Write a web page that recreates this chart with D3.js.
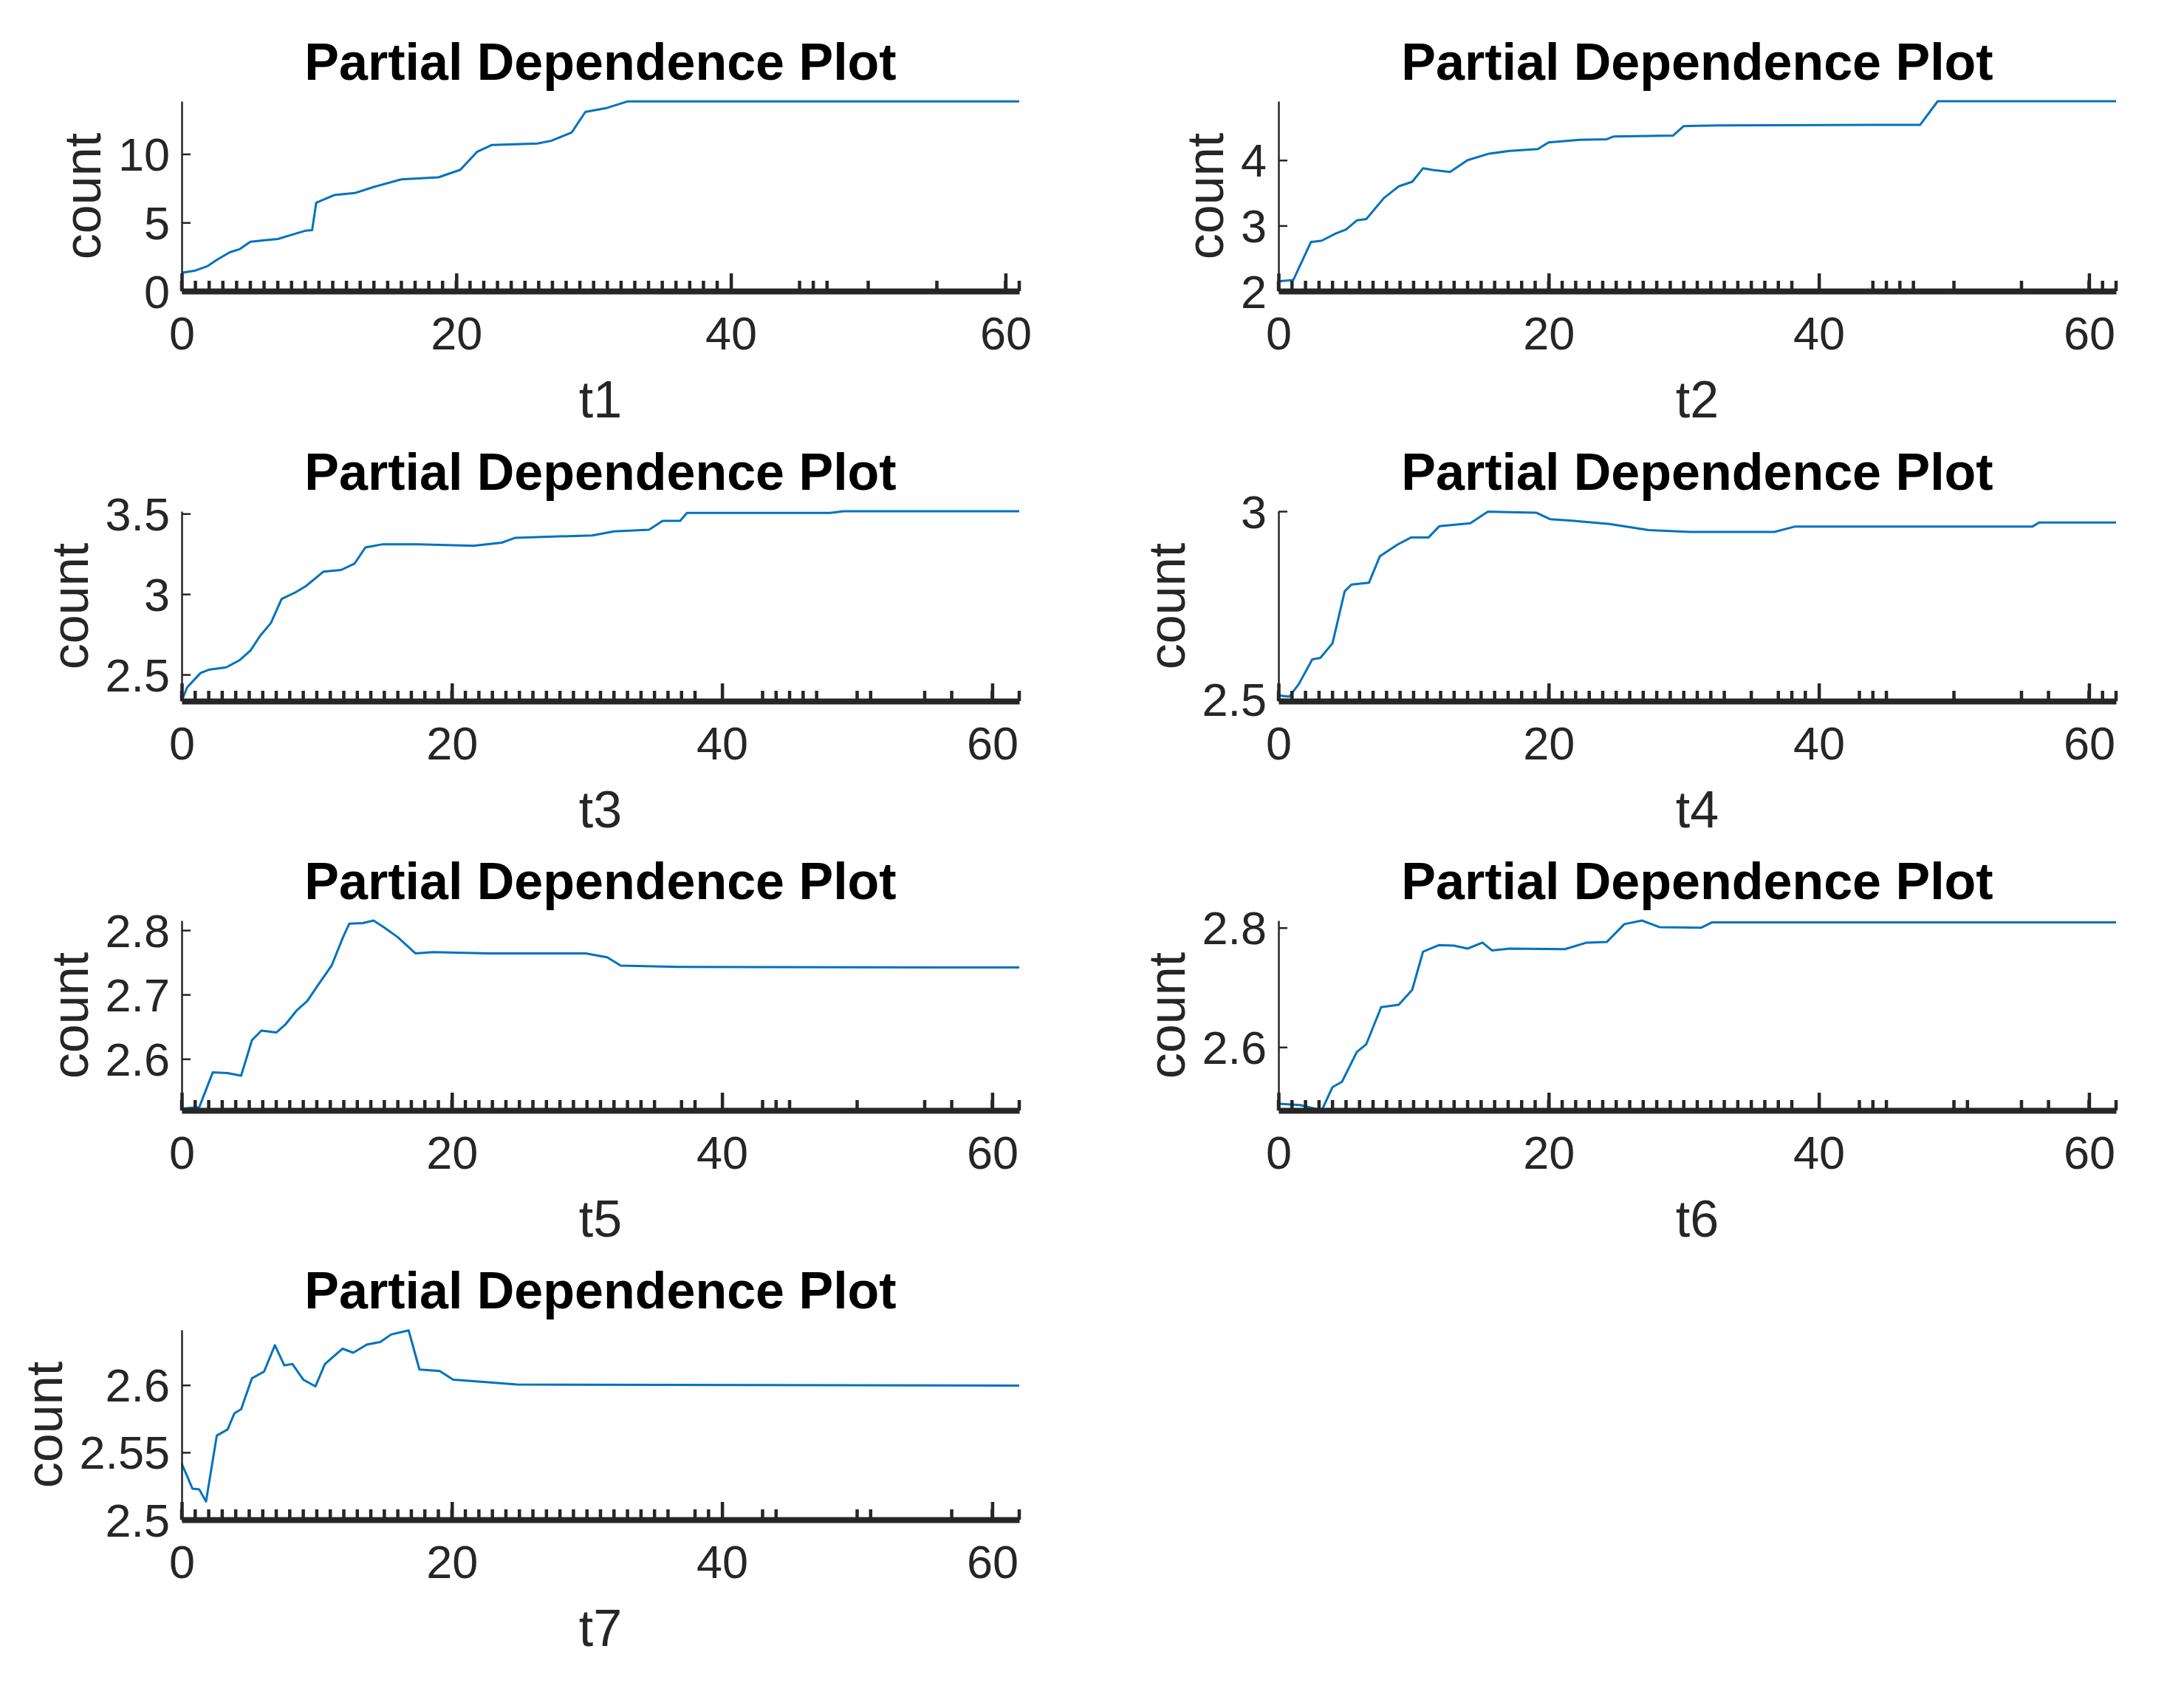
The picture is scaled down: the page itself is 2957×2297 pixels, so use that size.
<!DOCTYPE html>
<html>
<head>
<meta charset="utf-8">
<script src="https://cdn.jsdelivr.net/npm/d3@7"></script>
<style>
  html, body { margin: 0; padding: 0; background: #fff; }
  svg { display: block; }
  text { font-family: "Liberation Sans", Arial, Helvetica, sans-serif; }
</style>
</head>
<body>
<svg id="chart" width="2957" height="2297"></svg>
<script>
// ---------------- data ----------------
const panelNames = ["t1", "t2", "t3", "t4", "t5", "t6", "t7"];
const titleText = "Partial Dependence Plot";
const yLabelText = "count";
const xTicks = [0, 20, 40, 60];

const xMax = [61, 62, 62, 62, 62, 62, 62];
const yDomains = [
  [0, 13.85],
  [2.0, 4.9],
  [2.335, 3.515],
  [2.495, 3.0],
  [2.52, 2.815],
  [2.494, 2.812],
  [2.5, 2.641]
];
const yTicks = [
  [0, 5, 10],
  [2, 3, 4],
  [2.5, 3, 3.5],
  [2.5, 3],
  [2.6, 2.7, 2.8],
  [2.6, 2.8],
  [2.5, 2.55, 2.6]
];

const x1 = [0, 1, 1.9, 2.6, 3.5, 4.2, 5, 6, 7, 8, 9, 9.5, 9.8, 11.1, 12.6, 14, 16, 18.7, 20.3, 21.5, 22.6, 25.9, 26.9, 28.4, 29.4, 31, 32.5, 61];
const y1 = [1.33, 1.5, 1.83, 2.3, 2.83, 3.05, 3.6, 3.7, 3.8, 4.1, 4.4, 4.45, 6.45, 7.0, 7.15, 7.6, 8.15, 8.3, 8.85, 10.15, 10.66, 10.76, 10.96, 11.57, 13.07, 13.37, 13.84, 13.84];

const x2 = [0, 1.1, 2.4, 3.2, 4.2, 5, 5.8, 6.5, 7.8, 8.9, 9.9, 10.7, 11.4, 12.7, 14, 15.6, 17.1, 19.2, 20, 22.3, 24.3, 24.8, 27.4, 29.2, 30, 32.6, 47.5, 48.8, 62];
const y2 = [2.15, 2.17, 2.75, 2.77, 2.875, 2.94, 3.08, 3.1, 3.42, 3.6, 3.67, 3.875, 3.85, 3.82, 4.0, 4.1, 4.14, 4.17, 4.27, 4.31, 4.32, 4.36, 4.37, 4.375, 4.52, 4.53, 4.54, 4.9, 4.9];

const x3 = [0, 0.4, 1.4, 2, 3.3, 4.3, 5.1, 5.8, 6.6, 7.4, 8.4, 9.2, 10.5, 11.8, 12.8, 13.6, 14.9, 17.5, 21.6, 23.7, 24.7, 30.4, 32, 34.6, 35.6, 36.9, 37.4, 48, 49, 62];
const y3 = [2.335, 2.42, 2.51, 2.53, 2.545, 2.59, 2.65, 2.74, 2.82, 2.97, 3.01, 3.05, 3.14, 3.15, 3.19, 3.29, 3.31, 3.31, 3.30, 3.32, 3.35, 3.365, 3.39, 3.40, 3.455, 3.455, 3.505, 3.505, 3.515, 3.515];

const x4 = [0, 0.8, 1.5, 2.5, 3.1, 4, 4.9, 5.4, 6.7, 7.5, 8.8, 9.8, 11.1, 11.9, 14.2, 15.5, 19.1, 20.1, 21.7, 24.5, 27.4, 30.5, 36.7, 38.2, 55.8, 56.3, 62];
const y4 = [2.51, 2.507, 2.54, 2.606, 2.61, 2.649, 2.787, 2.805, 2.81, 2.88, 2.911, 2.93, 2.93, 2.96, 2.968, 2.999, 2.996, 2.979, 2.975, 2.966, 2.95, 2.945, 2.945, 2.959, 2.959, 2.97, 2.97];

const x5 = [0, 1.3, 2.3, 3.4, 4.4, 5.2, 5.9, 7, 7.7, 8.5, 9.3, 10.1, 11.1, 11.9, 12.4, 13.4, 14.2, 15, 16, 17.3, 18.6, 22.7, 29.9, 31.5, 32.5, 36.7, 62];
const y5 = [2.523, 2.525, 2.579, 2.578, 2.574, 2.629, 2.644, 2.641, 2.654, 2.675, 2.69, 2.715, 2.745, 2.787, 2.81, 2.811, 2.815, 2.804, 2.789, 2.764, 2.766, 2.764, 2.764, 2.758, 2.745, 2.743, 2.742];

const x6 = [0, 1.6, 3.2, 4, 4.7, 5.8, 6.5, 7.6, 8.9, 9.9, 10.7, 11.9, 13, 14, 15.1, 15.8, 17.1, 21.2, 22.8, 24.3, 25.6, 26.9, 28.2, 31.3, 32.1, 62];
const y6 = [2.505, 2.503, 2.494, 2.533, 2.542, 2.592, 2.605, 2.667, 2.671, 2.696, 2.76, 2.771, 2.77, 2.765, 2.775, 2.762, 2.765, 2.764, 2.775, 2.776, 2.806, 2.812, 2.801, 2.8, 2.809, 2.809];

const x7 = [0, 0.8, 1.3, 1.8, 2.6, 3.4, 3.9, 4.4, 5.2, 6.1, 6.9, 7.6, 8.2, 9, 9.9, 10.6, 11.9, 12.7, 13.7, 14.7, 15.5, 16.8, 17.6, 19.1, 20.1, 22.7, 24.8, 62];
const y7 = [2.5417, 2.523, 2.5225, 2.5135, 2.5625, 2.567, 2.579, 2.582, 2.605, 2.610, 2.6296, 2.6146, 2.6156, 2.604, 2.599, 2.6156, 2.627, 2.624, 2.630, 2.632, 2.6375, 2.6406, 2.6115, 2.6104, 2.604, 2.602, 2.6004, 2.5996];

// rug marks (observed predictor values)
const rug1 = [0,1,2,3,4,5,6,7,8,9,10,11,12,13,14,15,16,17,18,19,20,21,22,23,24,25,26,27,28,29,30,31,32,33,34,35,36,37,38,39,45,46,47,50,55,60,61];
const rug2 = [0,1,2,3,4,5,6,7,8,9,10,11,12,13,14,15,16,17,18,19,20,21,22,23,24,25,26,27,28,29,30,31,32,33,34,35,36,37,38,44,45,46,47,50,55,60,61,62];
const rug3 = [0,1,2,3,4,5,6,7,8,9,10,11,12,13,14,15,16,17,18,19,20,21,22,23,24,25,26,27,28,29,30,31,32,33,34,35,36,37,38,43,44,45,46,47,50,51,55,57,60,62];
const rug4 = [0,1,2,3,4,5,6,7,8,9,10,11,12,13,14,15,16,17,18,19,20,21,22,23,24,25,26,27,28,29,30,31,32,33,35,37,38,39,43,44,45,50,55,57,60,61,62];
const rug5 = [0,1,2,3,4,5,6,7,8,9,10,11,12,13,14,15,16,17,18,19,20,21,22,23,24,25,26,27,28,29,30,31,32,33,34,35,37,38,43,44,45,50,55,57,60,62];
const rug6 = [0,1,2,3,4,5,6,7,8,9,10,11,12,13,14,15,16,17,18,19,20,21,22,23,24,25,26,27,28,29,30,31,32,33,34,35,36,37,38,43,44,45,50,51,55,57,60,62];
const rug7 = [0,1,2,3,4,5,6,7,8,9,10,11,12,13,14,15,16,17,18,19,20,21,22,23,24,25,26,27,28,29,30,31,32,33,34,35,36,38,39,43,44,50,51,57,60,62];

const xsAll = [x1, x2, x3, x4, x5, x6, x7];
const ysAll = [y1, y2, y3, y4, y5, y6, y7];
const rugsAll = [rug1, rug2, rug3, rug4, rug5, rug6, rug7];

// ---------------- layout ----------------
const colX = [246, 1731];
const rowBottom = [394, 949, 1503, 2057];
const axW = 1134, axH = 257;
const ink = "#262626";
const lineColor = "#0072BD";

const svg = d3.select("#chart");

panelNames.forEach((name, i) => {
  const col = i % 2, row = Math.floor(i / 2);
  const x0 = colX[col], yb = rowBottom[row], yt = yb - axH;

  const x = d3.scaleLinear().domain([0, xMax[i]]).range([x0, x0 + axW]);
  const y = d3.scaleLinear().domain(yDomains[i]).range([yb, yt]);

  const g = svg.append("g");

  // data line
  const pts = xsAll[i].map((v, k) => [v, ysAll[i][k]]);
  g.append("path")
    .datum(pts)
    .attr("fill", "none")
    .attr("stroke", lineColor)
    .attr("stroke-width", 3)
    .attr("stroke-linejoin", "round")
    .attr("d", d3.line().x(d => x(d[0])).y(d => y(d[1])));

  // rug ticks
  g.selectAll("line.rug").data(rugsAll[i]).enter().append("line")
    .attr("x1", d => x(d)).attr("x2", d => x(d))
    .attr("y1", yb).attr("y2", yb - 14)
    .attr("stroke", ink).attr("stroke-width", 4.5);

  // x axis (ticks inward)
  const xAxis = d3.axisTop(x).tickValues(xTicks).tickSize(24).tickSizeOuter(0).tickFormat(d3.format("d"));
  const gx = g.append("g").attr("transform", `translate(0,${yb})`).call(xAxis);
  gx.select(".domain").attr("stroke", ink).attr("stroke-width", 8);
  gx.selectAll(".tick line").attr("stroke", ink).attr("stroke-width", 4.5);
  gx.selectAll(".tick text")
    .attr("y", 79).attr("dy", null)
    .attr("font-size", 63).attr("fill", ink)
    .attr("font-family", "'Liberation Sans', Arial, sans-serif");

  // y axis (ticks inward)
  const yAxis = d3.axisRight(y).tickValues(yTicks[i]).tickSize(12).tickSizeOuter(0).tickFormat(d => String(d));
  const gy = g.append("g").attr("transform", `translate(${x0},0)`).call(yAxis);
  gy.select(".domain").attr("stroke", ink).attr("stroke-width", 2.5);
  gy.selectAll(".tick line").attr("stroke", ink).attr("stroke-width", 2.5);
  gy.selectAll(".tick text")
    .attr("x", -16).attr("dy", "0.35em")
    .attr("text-anchor", "end")
    .attr("font-size", 63).attr("fill", ink)
    .attr("font-family", "'Liberation Sans', Arial, sans-serif");

  let maxW = 0;
  gy.selectAll(".tick text").each(function () { maxW = Math.max(maxW, this.getComputedTextLength()); });

  // title
  g.append("text")
    .attr("x", x0 + axW / 2).attr("y", yt - 29)
    .attr("text-anchor", "middle")
    .attr("font-size", 70).attr("font-weight", "bold").attr("fill", "#000")
    .text(titleText);

  // x label
  g.append("text")
    .attr("x", x0 + axW / 2).attr("y", yb + 171)
    .attr("text-anchor", "middle")
    .attr("font-size", 70).attr("fill", ink)
    .text(name);

  // y label
  const lx = x0 - 16 - maxW - 48;
  g.append("text")
    .attr("transform", `translate(${lx},${(yt + yb) / 2}) rotate(-90)`)
    .attr("text-anchor", "middle")
    .attr("dy", "0.35em")
    .attr("font-size", 70).attr("fill", ink)
    .text(yLabelText);
});
</script>
</body>
</html>
